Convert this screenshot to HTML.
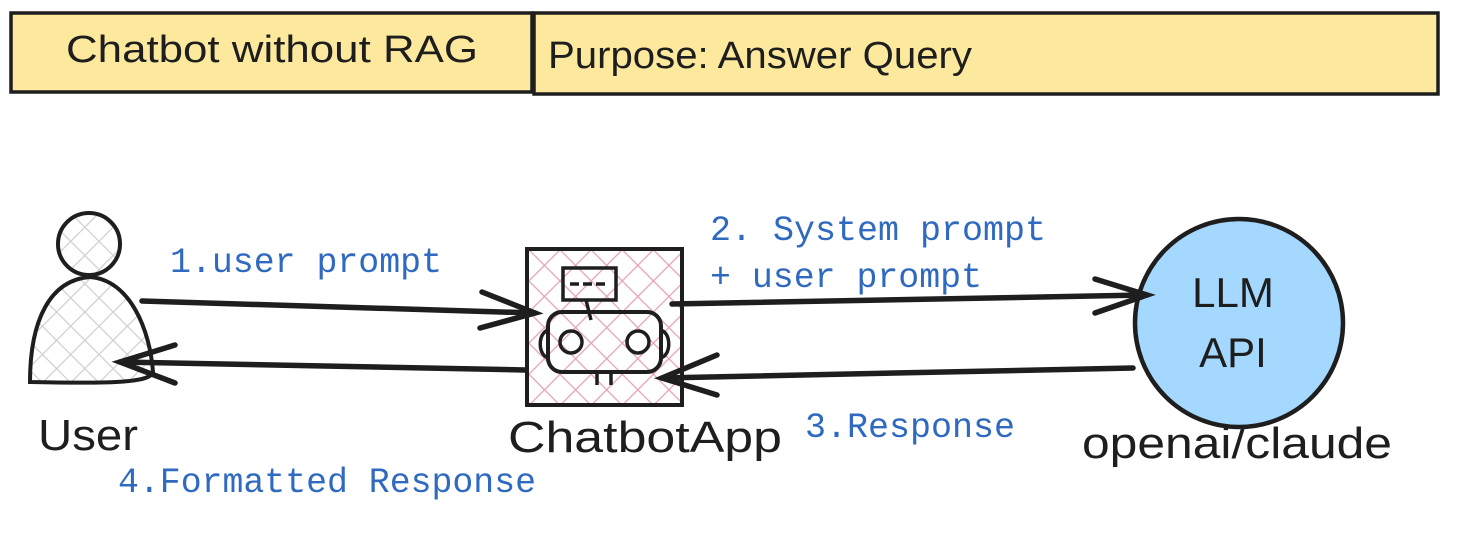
<!DOCTYPE html>
<html><head><meta charset="utf-8"><style>
html,body{margin:0;padding:0;background:#fff;width:1462px;height:548px;overflow:hidden}
svg{display:block}
.h{font-family:"Liberation Sans",sans-serif;fill:#1e1e1e}
.b{font-family:"Liberation Mono",monospace;fill:#2f6ac0;font-size:35px}
</style></head><body>
<svg width="1462" height="548" viewBox="0 0 1462 548" xmlns="http://www.w3.org/2000/svg">
<defs>
<pattern id="pk" width="22" height="22" patternUnits="userSpaceOnUse" patternTransform="rotate(45)">
<rect width="22" height="22" fill="#fff"/>
<path d="M0 0H22M0 0V22" stroke="#e6a0b5" stroke-width="2.5"/>
</pattern>
<pattern id="gr" width="20" height="20" patternUnits="userSpaceOnUse" patternTransform="rotate(45)">
<rect width="20" height="20" fill="#fff"/>
<path d="M0 0H20M0 0V20" stroke="#ccd0d6" stroke-width="2.5"/>
</pattern>
</defs>
<!-- header -->
<rect x="11" y="13" width="521" height="79" fill="#fce99d" stroke="#1e1e1e" stroke-width="3.5"/>
<rect x="534" y="13" width="904" height="81" fill="#fce99d" stroke="#1e1e1e" stroke-width="3.5"/>
<text class="h" x="66" y="62" font-size="38" textLength="412" lengthAdjust="spacingAndGlyphs">Chatbot without RAG</text>
<text class="h" x="548" y="68" font-size="38" textLength="424" lengthAdjust="spacingAndGlyphs">Purpose: Answer Query</text>
<!-- user -->
<path d="M30 382 C30 320 50 280 90 277 C130 280 150 330 153 372 C150 382 120 384 30 382 Z" fill="url(#gr)" stroke="#1e1e1e" stroke-width="4"/>
<circle cx="89" cy="244" r="31" fill="url(#gr)" stroke="#1e1e1e" stroke-width="4"/>
<text class="h" x="38" y="450" font-size="44" textLength="100" lengthAdjust="spacingAndGlyphs">User</text>
<!-- chatbot -->
<rect x="527" y="249" width="155" height="156" fill="url(#pk)" stroke="#1e1e1e" stroke-width="4"/>
<rect x="563" y="268" width="53" height="32" fill="none" stroke="#1e1e1e" stroke-width="3.5"/>
<path d="M570 284h9M583 284h9M596 284h9" stroke="#1e1e1e" stroke-width="3.5"/>
<path d="M586 300 L591 320" stroke="#1e1e1e" stroke-width="3.5"/>
<path d="M550 330 C537 330 537 358 550 358 M659 330 C672 330 672 358 659 358" fill="none" stroke="#1e1e1e" stroke-width="3.5"/>
<rect x="548" y="312" width="113" height="60" rx="14" fill="none" stroke="#1e1e1e" stroke-width="4"/>
<circle cx="571" cy="342" r="11" fill="none" stroke="#1e1e1e" stroke-width="3.5"/>
<circle cx="638" cy="342" r="11" fill="none" stroke="#1e1e1e" stroke-width="3.5"/>
<path d="M597 372v13M611 372v13" stroke="#1e1e1e" stroke-width="3.5"/>
<text class="h" x="508" y="452" font-size="44" textLength="274" lengthAdjust="spacingAndGlyphs">ChatbotApp</text>
<!-- LLM -->
<ellipse cx="1239" cy="323" rx="104" ry="104" fill="#a5d8ff" stroke="#1e1e1e" stroke-width="4.5"/>
<text class="h" x="1233" y="307" font-size="42" text-anchor="middle">LLM</text>
<text class="h" x="1233" y="367" font-size="42" text-anchor="middle">API</text>
<text class="h" x="1082" y="458" font-size="44" textLength="310" lengthAdjust="spacingAndGlyphs">openai/claude</text>
<!-- arrows -->
<g stroke="#1e1e1e" stroke-width="5.5" fill="none" stroke-linecap="round">
<path d="M142 301 L535 313"/><path d="M482 292 L535 313 L480 328"/>
<path d="M525 370 L120 362"/><path d="M175 345 L120 362 L175 383"/>
<path d="M672 304 L1147 295"/><path d="M1095 279 L1147 295 L1095 313"/>
<path d="M1133 368 L662 378"/><path d="M717 355 L662 378 L717 395"/>
</g>
<text class="b" x="170" y="272" textLength="272" lengthAdjust="spacingAndGlyphs">1.user prompt</text>
<text class="b" x="710" y="240" textLength="336" lengthAdjust="spacingAndGlyphs">2. System prompt</text>
<text class="b" x="710" y="287" textLength="272" lengthAdjust="spacingAndGlyphs">+ user prompt</text>
<text class="b" x="805" y="437" textLength="210" lengthAdjust="spacingAndGlyphs">3.Response</text>
<text class="b" x="118" y="492" textLength="418" lengthAdjust="spacingAndGlyphs">4.Formatted Response</text>
</svg>
</body></html>
